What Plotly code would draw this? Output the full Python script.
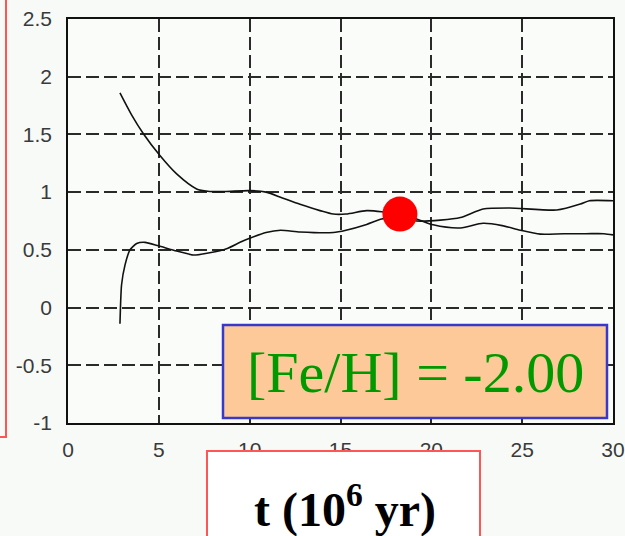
import plotly.graph_objects as go

# ---- data ----
t_upper = [2.86, 3.5, 4.15, 5.06, 5.98, 7.08, 7.7, 8.6, 10.0, 10.9, 11.8, 12.77, 13.87, 14.6, 15.3, 16.44,
           17.27, 18.3, 19.19, 20.1, 21.6, 22.85, 23.9, 24.9, 26.0, 27.3, 28.5, 29.5, 30.0]
v_upper = [1.86, 1.67, 1.506, 1.317, 1.158, 1.028, 1.007, 1.005, 1.013, 1.0, 0.95, 0.895, 0.84, 0.81, 0.81, 0.84,
           0.83, 0.80, 0.767, 0.717, 0.69, 0.73, 0.71, 0.67, 0.636, 0.64, 0.64, 0.64, 0.63]

t_lower = [2.86, 2.95, 3.14, 3.41, 3.78, 4.24, 4.97, 5.98, 6.9, 7.8, 8.73, 9.47, 10.0, 10.9, 11.7, 12.77,
           14.6, 15.3, 16.44, 17.27, 18.3, 19.19, 20.5, 21.6, 22.85, 24.3, 26.9, 28.2, 28.7, 30.0]
v_lower = [-0.14, 0.2, 0.37, 0.5, 0.555, 0.565, 0.535, 0.49, 0.455, 0.475, 0.51, 0.565, 0.6, 0.65, 0.67, 0.655,
           0.65, 0.67, 0.72, 0.767, 0.78, 0.75, 0.758, 0.78, 0.854, 0.863, 0.845, 0.897, 0.926, 0.926]

dot_t = [18.27]
dot_v = [0.81]

x_ticks = [0, 5, 10, 15, 20, 25, 30]
y_ticks = [-1, -0.5, 0, 0.5, 1, 1.5, 2, 2.5]
y_tick_text = ["-1", "-0.5", "0", "0.5", "1", "1.5", "2", "2.5"]

label_text = "[Fe/H] = -2.00"
axis_title = "<b>t (10<sup>6</sup> yr)</b>"

# ---- layout geometry (pixels) ----
W, H = 625, 536
L, R, T, B = 68, 12, 19, 113
PW, PH = W - L - R, H - T - B


def px(xp):
    return (xp - L) / PW


def py(yp):
    return 1 - (yp - T) / PH


fig = go.Figure()
fig.add_trace(go.Scatter(x=t_upper, y=v_upper, mode="lines",
                         line=dict(color="#111111", width=1.6, shape="spline", smoothing=0.8),
                         showlegend=False, hoverinfo="skip"))
fig.add_trace(go.Scatter(x=t_lower, y=v_lower, mode="lines",
                         line=dict(color="#111111", width=1.6, shape="spline", smoothing=0.6),
                         showlegend=False, hoverinfo="skip"))
fig.add_trace(go.Scatter(x=dot_t, y=dot_v, mode="markers",
                         marker=dict(color="#ff0000", size=35, line=dict(width=0)),
                         showlegend=False, hoverinfo="skip"))

tickfont = dict(family="Liberation Sans, Arial, sans-serif", size=21, color="#3a3a3a")

fig.update_xaxes(range=[0, 30], tickvals=x_ticks, showgrid=True, gridcolor="#2a2a2a", gridwidth=1.6,
                 griddash="13px,5px", zeroline=False, showline=True, linecolor="#111111", linewidth=1.6,
                 mirror=True, ticks="", tickfont=tickfont, ticklabelstandoff=7, fixedrange=True,
                 automargin=False)
fig.update_yaxes(range=[-1, 2.5], tickvals=y_ticks, ticktext=y_tick_text, showgrid=True, gridcolor="#2a2a2a",
                 gridwidth=1.6, griddash="13px,5px", zeroline=False, showline=True, linecolor="#111111",
                 linewidth=1.6, mirror=True, ticks="", tickfont=tickfont, ticklabelstandoff=10, fixedrange=True,
                 automargin=False)

shapes = [
    # left cut-off red box
    dict(type="rect", xref="paper", yref="paper", x0=px(-20), x1=px(6), y0=py(437), y1=py(-20),
         line=dict(color="#ff5555", width=2), fillcolor="rgba(0,0,0,0)", layer="above"),
    # orange label box
    dict(type="rect", xref="paper", yref="paper", x0=px(223), x1=px(607), y0=py(418), y1=py(325),
         line=dict(color="#3838cc", width=2.5), fillcolor="#fdc998", layer="above"),
    # bottom axis-title box
    dict(type="rect", xref="paper", yref="paper", x0=px(207), x1=px(480), y0=py(560), y1=py(451),
         line=dict(color="#ff5555", width=2), fillcolor="#ffffff", layer="above"),
]

annotations = [
    dict(text=label_text, xref="paper", yref="paper", x=px(415), y=py(372), xanchor="center", yanchor="middle",
         showarrow=False, font=dict(family="Liberation Serif, Times New Roman, serif", size=58, color="#009900")),
    dict(text=axis_title, xref="paper", yref="paper", x=px(345), y=py(506), xanchor="center", yanchor="middle",
         showarrow=False, font=dict(family="Liberation Serif, Times New Roman, serif", size=48, color="#000000")),
]

fig.update_layout(width=W, height=H, margin=dict(l=L, r=R, t=T, b=B, pad=0, autoexpand=False),
                  paper_bgcolor="#f8faf8", plot_bgcolor="#fafcfa",
                  shapes=shapes, annotations=annotations, showlegend=False)

fig.write_html("out.html", config={"displayModeBar": False},
               post_script="document.body.style.margin='0';document.body.style.padding='0';")
